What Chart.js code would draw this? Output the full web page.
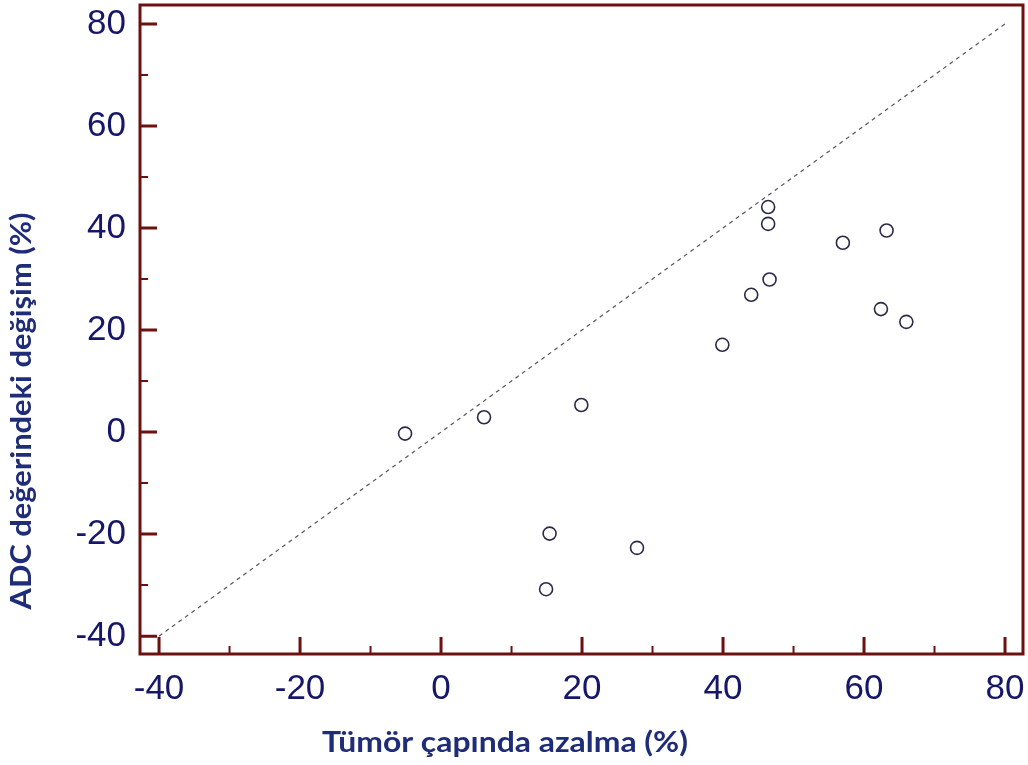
<!DOCTYPE html>
<html>
<head>
<meta charset="utf-8">
<script src="https://cdn.jsdelivr.net/npm/chart.js@4.4.0/dist/chart.umd.min.js"></script>
<style>
  html, body { margin: 0; padding: 0; background: #ffffff; }
  #wrap { width: 1028px; height: 765px; }
</style>
</head>
<body>
<div id="wrap"><canvas id="c" width="1028" height="765"></canvas></div>
<script>
// ---- data ----
const tumorReduction = [-5.1, 6.1, 19.9, 15.4, 14.9, 27.8, 39.9, 46.4, 46.4, 46.6, 44.0, 57.0, 63.2, 62.4, 66.0];
const adcChange      = [-0.3, 2.9, 5.3, -19.9, -30.8, -22.7, 17.1, 44.1, 40.8, 29.9, 26.9, 37.1, 39.5, 24.1, 21.6];
const identityLineX  = [-40, 80];
const identityLineY  = [-40, 80];
const xTickValues    = [-40, -20, 0, 20, 40, 60, 80];
const yTickValues    = [-40, -20, 0, 20, 40, 60, 80];
const xMinorTicks    = [-30, -10, 10, 30, 50, 70];
const yMinorTicks    = [-30, -10, 10, 30, 50, 70];
const xTitle = 'Tümör çapında azalma (%)';
const yTitle = 'ADC değerindeki değişim (%)';

const scatterPoints = tumorReduction.map((x, i) => ({ x: x, y: adcChange[i] }));
const linePoints = identityLineX.map((x, i) => ({ x: x, y: identityLineY[i] }));

const FRAME = '#6d1010';
const LABEL = '#17176a';
const TITLE = '#1f2c78';

const framePlugin = {
  id: 'frame',
  afterDatasetsDraw(chart) {
    const { ctx, chartArea: a, scales: { x, y } } = chart;
    ctx.save();
    ctx.strokeStyle = FRAME;
    ctx.lineWidth = 3;
    ctx.beginPath();
    xTickValues.forEach(v => { const p = x.getPixelForValue(v); ctx.moveTo(p, a.bottom); ctx.lineTo(p, a.bottom - 17); });
    yTickValues.forEach(v => { const p = y.getPixelForValue(v); ctx.moveTo(a.left, p); ctx.lineTo(a.left + 17, p); });
    ctx.stroke();
    ctx.lineWidth = 2;
    ctx.beginPath();
    xMinorTicks.forEach(v => { const p = x.getPixelForValue(v); ctx.moveTo(p, a.bottom); ctx.lineTo(p, a.bottom - 8); });
    yMinorTicks.forEach(v => { const p = y.getPixelForValue(v); ctx.moveTo(a.left, p); ctx.lineTo(a.left + 8, p); });
    ctx.stroke();
    ctx.lineWidth = 3;
    ctx.strokeRect(a.left, a.top, a.right - a.left, a.bottom - a.top);
    ctx.restore();
  },
  afterDraw(chart) {
    const { ctx } = chart;
    ctx.save();
    ctx.fillStyle = TITLE;
    ctx.font = 'bold 29px Lato';
    ctx.textAlign = 'center';
    ctx.textBaseline = 'alphabetic';
    let w = ctx.measureText(xTitle).width;
    ctx.save();
    ctx.translate(505, 752);
    ctx.scale(366 / w, 1);
    ctx.fillText(xTitle, 0, 0);
    ctx.restore();
    w = ctx.measureText(yTitle).width;
    ctx.save();
    ctx.translate(31, 411);
    ctx.rotate(-Math.PI / 2);
    ctx.scale(397 / w, 1);
    ctx.fillText(yTitle, 0, 0);
    ctx.restore();
    ctx.restore();
  }
};

new Chart(document.getElementById('c'), {
  type: 'scatter',
  data: {
    datasets: [
      {
        type: 'line',
        data: linePoints,
        borderColor: '#555555',
        borderWidth: 1.2,
        borderDash: [4, 4],
        pointRadius: 0,
        fill: false
      },
      {
        data: scatterPoints,
        pointStyle: 'circle',
        pointRadius: 6.5,
        pointBorderWidth: 1.6,
        borderColor: '#2a2a48',
        backgroundColor: 'rgba(255,255,255,0)'
      }
    ]
  },
  options: {
    responsive: false,
    animation: false,
    layout: { autoPadding: false, padding: { top: 5, right: 5, left: 0, bottom: 0 } },
    plugins: { legend: { display: false }, tooltip: { enabled: false } },
    scales: {
      x: {
        type: 'linear',
        min: -42.7,
        max: 82.55,
        afterBuildTicks: s => { s.ticks = xTickValues.map(v => ({ value: v })); },
        afterFit: s => { s.height = 111; s.paddingLeft = 0; s.paddingRight = 0; },
        grid: { display: false, drawTicks: false },
        border: { display: false },
        ticks: { color: LABEL, font: { family: 'Liberation Sans', size: 35 }, padding: 14, maxRotation: 0 }
      },
      y: {
        type: 'linear',
        min: -43.5,
        max: 83.7,
        afterBuildTicks: s => { s.ticks = yTickValues.map(v => ({ value: v })); },
        afterFit: s => { s.width = 140; s.paddingTop = 0; s.paddingBottom = 0; },
        grid: { display: false, drawTicks: false },
        border: { display: false },
        ticks: { color: LABEL, font: { family: 'Liberation Sans', size: 35 }, padding: 14 }
      }
    }
  },
  plugins: [framePlugin]
});
</script>
</body>
</html>
